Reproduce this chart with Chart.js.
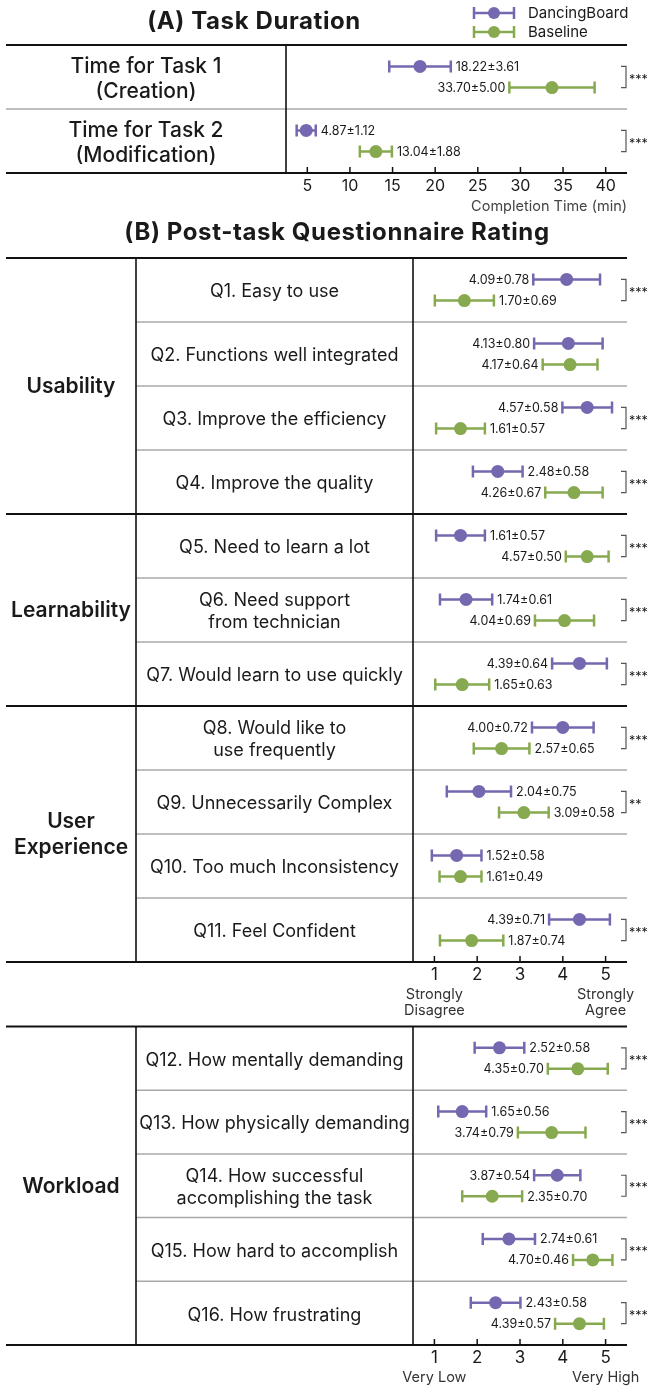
<!DOCTYPE html>
<html><head><meta charset="utf-8">
<script src="https://cdn.jsdelivr.net/npm/chart.js@4.4.1/dist/chart.umd.min.js"></script>
<style>
html,body{margin:0;padding:0;background:#fff;}
#wrap{position:relative;width:647px;height:1387px;overflow:hidden;}
canvas{position:absolute;left:0;}
</style></head><body>
<div id="wrap">
<canvas id="cA" width="647" height="215" style="top:0px"></canvas>
<canvas id="cB1" width="647" height="805" style="top:215px"></canvas>
<canvas id="cB2" width="647" height="367" style="top:1020px"></canvas>
</div>
<script>
// ---------------- DATA ----------------
const seriesNames = ["DancingBoard", "Baseline"];

const taskRows = [["Time for Task 1", "(Creation)"], ["Time for Task 2", "(Modification)"]];
const taskDancingMean = [18.22, 4.87];
const taskDancingSD = [3.61, 1.12];
const taskBaselineMean = [33.70, 13.04];
const taskBaselineSD = [5.00, 1.88];
const taskSig = ["***", "***"];
const taskTicks = [5, 10, 15, 20, 25, 30, 35, 40];

const ratingQuestions = [["Q1. Easy to use"], ["Q2. Functions well integrated"], ["Q3. Improve the efficiency"], ["Q4. Improve the quality"], ["Q5. Need to learn a lot"], ["Q6. Need support", "from technician"], ["Q7. Would learn to use quickly"], ["Q8. Would like to", "use frequently"], ["Q9. Unnecessarily Complex"], ["Q10. Too much Inconsistency"], ["Q11. Feel Confident"]];
const ratingDancingMean = [4.09, 4.13, 4.57, 2.48, 1.61, 1.74, 4.39, 4.00, 2.04, 1.52, 4.39];
const ratingDancingSD = [0.78, 0.80, 0.58, 0.58, 0.57, 0.61, 0.64, 0.72, 0.75, 0.58, 0.71];
const ratingBaselineMean = [1.70, 4.17, 1.61, 4.26, 4.57, 4.04, 1.65, 2.57, 3.09, 1.61, 1.87];
const ratingBaselineSD = [0.69, 0.64, 0.57, 0.67, 0.50, 0.69, 0.63, 0.65, 0.58, 0.49, 0.74];
const ratingSig = ["***", "", "***", "***", "***", "***", "***", "***", "**", "", "***"];
const ratingGroups = [["Usability"], ["Learnability"], ["User", "Experience"]];
const ratingGroupSizes = [4, 3, 4];
const ratingTicks = [1, 2, 3, 4, 5];
const ratingEnds = [["Strongly", "Disagree"], ["Strongly", "Agree"]];

const workloadQuestions = [["Q12. How mentally demanding"], ["Q13. How physically demanding"], ["Q14. How successful", "accomplishing the task"], ["Q15. How hard to accomplish"], ["Q16. How frustrating"]];
const workloadDancingMean = [2.52, 1.65, 3.87, 2.74, 2.43];
const workloadDancingSD = [0.58, 0.56, 0.54, 0.61, 0.58];
const workloadBaselineMean = [4.35, 3.74, 2.35, 4.70, 4.39];
const workloadBaselineSD = [0.70, 0.79, 0.70, 0.46, 0.57];
const workloadSig = ["***", "***", "***", "***", "***"];
const workloadGroups = [["Workload"]];
const workloadGroupSizes = [5];
const workloadTicks = [1, 2, 3, 4, 5];
const workloadEnds = [["Very Low"], ["Very High"]];

// ---------------- STYLE ----------------
const FONT = 'Inter, "Noto Sans", sans-serif';
const PURPLE = '#7668b0';
const GREEN = '#87aa50';
const INK = '#1a1a1a';
Chart.defaults.font.family = FONT;
const OFF = 0.165;

function f(size, weight) { return (weight || 400) + ' ' + size + 'px ' + FONT; }

function drawLines(ctx, lines, x, y, lh) {
  const start = y - (lines.length - 1) * lh / 2;
  lines.forEach((t, i) => ctx.fillText(t, x, start + i * lh));
}

function drawErrorGlyph(ctx, x0, xm, x1, y, color, r) {
  ctx.strokeStyle = color; ctx.lineWidth = 2.5;
  ctx.beginPath();
  ctx.moveTo(x0, y); ctx.lineTo(x1, y);
  ctx.moveTo(x0, y - 6); ctx.lineTo(x0, y + 6);
  ctx.moveTo(x1, y - 6); ctx.lineTo(x1, y + 6);
  ctx.stroke();
  if (r) { ctx.fillStyle = color; ctx.beginPath(); ctx.arc(xm, y, r, 0, Math.PI * 2); ctx.fill(); }
}

function buildChart(id, spec) {
  const n = spec.rows.length;
  const series = [
    { mean: spec.dMean, sd: spec.dSD, color: PURPLE },
    { mean: spec.bMean, sd: spec.bSD, color: GREEN }
  ];
  const yOf = (i, k) => i + 0.5 + (k ? OFF : -OFF);

  const deco = {
    id: 'deco',
    beforeDatasetsDraw(chart) {
      const { ctx, chartArea: ca, scales: { x, y } } = chart;
      ctx.save();
      const L = 6, R = ca.right;
      // row separators
      for (let i = 1; i < n; i++) {
        const py = y.getPixelForValue(i);
        const isGroupEdge = spec.groupEdges && spec.groupEdges.includes(i);
        ctx.strokeStyle = isGroupEdge ? '#111' : '#a8a8a8';
        ctx.lineWidth = isGroupEdge ? 2 : 1.5;
        ctx.beginPath();
        ctx.moveTo(isGroupEdge ? L : (spec.groupCol ? spec.groupCol : L), py);
        ctx.lineTo(R, py); ctx.stroke();
      }
      // vertical lines
      ctx.strokeStyle = '#111'; ctx.lineWidth = 1.6;
      const vx = [ca.left];
      if (spec.groupCol) vx.push(spec.groupCol);
      vx.forEach(v => { ctx.beginPath(); ctx.moveTo(v, ca.top); ctx.lineTo(v, ca.bottom); ctx.stroke(); });
      // top / bottom rules
      ctx.lineWidth = 2;
      [ca.top, ca.bottom].forEach(py => { ctx.beginPath(); ctx.moveTo(L, py); ctx.lineTo(R, py); ctx.stroke(); });
      // inward tick marks
      ctx.lineWidth = 1.5;
      spec.ticks.forEach(t => {
        const px = x.getPixelForValue(t);
        ctx.beginPath(); ctx.moveTo(px, ca.bottom - 6); ctx.lineTo(px, ca.bottom); ctx.stroke();
      });
      // row labels
      ctx.fillStyle = INK; ctx.textAlign = 'center'; ctx.textBaseline = 'middle';
      const qx0 = spec.groupCol ? spec.groupCol : L;
      const qcx = (qx0 + ca.left) / 2;
      ctx.font = spec.rowFont;
      spec.rows.forEach((lines, i) => drawLines(ctx, lines, qcx, y.getPixelForValue(i + 0.5) + 2, spec.rowLH));
      // group labels
      if (spec.groups) {
        ctx.font = f(21, 600);
        let start = 0;
        spec.groups.forEach((g, gi) => {
          const end = start + spec.groupSizes[gi];
          const cy = (y.getPixelForValue(start) + y.getPixelForValue(end)) / 2 + 1;
          drawLines(ctx, g, (L + spec.groupCol) / 2, cy, 26);
          start = end;
        });
      }
      // error bars
      series.forEach((s, k) => {
        ctx.strokeStyle = s.color; ctx.lineWidth = 2.5;
        s.mean.forEach((m, i) => {
          const py = y.getPixelForValue(yOf(i, k));
          const x0 = x.getPixelForValue(m - s.sd[i]), x1 = x.getPixelForValue(m + s.sd[i]);
          ctx.beginPath();
          ctx.moveTo(x0, py); ctx.lineTo(x1, py);
          ctx.moveTo(x0, py - 6); ctx.lineTo(x0, py + 6);
          ctx.moveTo(x1, py - 6); ctx.lineTo(x1, py + 6);
          ctx.stroke();
        });
      });
      ctx.restore();
    },
    afterDatasetsDraw(chart) {
      const { ctx, chartArea: ca, scales: { x, y } } = chart;
      ctx.save();
      // value labels
      ctx.font = spec.valFont; ctx.fillStyle = INK; ctx.textBaseline = 'middle';
      series.forEach((s, k) => {
        s.mean.forEach((m, i) => {
          const py = y.getPixelForValue(yOf(i, k)) + 0.5;
          const txt = m.toFixed(2) + '\u00b1' + s.sd[i].toFixed(2);
          const w = ctx.measureText(txt).width;
          const x0 = x.getPixelForValue(m - s.sd[i]), x1 = x.getPixelForValue(m + s.sd[i]);
          if (x1 + 5 + w <= ca.right) { ctx.textAlign = 'left'; ctx.fillText(txt, x1 + 5, py); }
          else { ctx.textAlign = 'right'; ctx.fillText(txt, x0 - 4, py); }
        });
      });
      // significance brackets
      spec.sig.forEach((sg, i) => {
        if (!sg) return;
        const y0 = y.getPixelForValue(yOf(i, 0)), y1 = y.getPixelForValue(yOf(i, 1));
        const bx = ca.right - 1;
        ctx.strokeStyle = '#555'; ctx.lineWidth = 1.2;
        ctx.beginPath(); ctx.moveTo(bx - 5, y0); ctx.lineTo(bx, y0); ctx.lineTo(bx, y1); ctx.lineTo(bx - 5, y1); ctx.stroke();
        ctx.font = f(12.5, 400); ctx.fillStyle = INK; ctx.textAlign = 'left'; ctx.textBaseline = 'alphabetic';
        ctx.fillText(sg, bx + 3, (y0 + y1) / 2 + 6.5);
      });
      if (spec.extra) spec.extra(ctx, ca, x, y);
      ctx.restore();
    }
  };

  return new Chart(document.getElementById(id), {
    type: 'scatter',
    data: {
      datasets: series.map((s, k) => ({
        label: seriesNames[k],
        data: s.mean.map((m, i) => ({ x: m, y: yOf(i, k) })),
        backgroundColor: s.color, borderColor: s.color, borderWidth: 0,
        pointRadius: 6.5, pointHoverRadius: 6.5
      }))
    },
    options: {
      responsive: false, animation: false, devicePixelRatio: 1, events: [],
      layout: { padding: spec.padding },
      plugins: { legend: { display: false }, tooltip: { enabled: false }, title: { display: false } },
      scales: {
        x: {
          type: 'linear', min: spec.min, max: spec.max,
          afterBuildTicks: sc => { sc.ticks = spec.ticks.map(v => ({ value: v })); },
          afterFit: sc => { sc.height = spec.axisH; },
          grid: { display: false, drawTicks: false },
          border: { display: false },
          ticks: { font: { size: spec.tickSize }, color: INK, padding: spec.tickPad, autoSkip: false, maxRotation: 0 },
          title: spec.axisTitle ? { display: true, text: spec.axisTitle, align: 'end', color: '#444', font: { size: 14.5 }, padding: { top: 0, bottom: 0 } } : { display: false }
        },
        y: { type: 'linear', min: 0, max: n, reverse: true, display: false }
      }
    },
    plugins: [deco]
  });
}

function titleText(ctx, txt, cx, cy) {
  ctx.fillStyle = INK; ctx.textAlign = 'center'; ctx.textBaseline = 'middle';
  ctx.font = f(24, 700);
  try { ctx.letterSpacing = '0.6px'; } catch (e) {}
  ctx.fillText(txt, cx, cy);
  try { ctx.letterSpacing = '0px'; } catch (e) {}
}

// ---------------- CHART A ----------------
buildChart('cA', {
  rows: taskRows, dMean: taskDancingMean, dSD: taskDancingSD, bMean: taskBaselineMean, bSD: taskBaselineSD,
  sig: taskSig, ticks: taskTicks, min: 2.5, max: 42.5,
  padding: { left: 286, right: 20, top: 45, bottom: 0 }, axisH: 42, tickSize: 16, tickPad: 4,
  axisTitle: 'Completion Time (min)',
  rowFont: f(21, 500), rowLH: 25, valFont: f(12.5, 400),
  extra(ctx, ca, x, y) {
    titleText(ctx, '(A) Task Duration', 254, 22);
    // legend
    [PURPLE, GREEN].forEach((c, k) => {
      const ly = 13 + k * 19;
      drawErrorGlyph(ctx, 474, 494, 514, ly, c, 6);
      ctx.fillStyle = INK; ctx.font = f(15, 400); ctx.textAlign = 'left'; ctx.textBaseline = 'middle';
      ctx.fillText(seriesNames[k], 528, ly);
    });
  }
});

// ---------------- CHART B1 ----------------
function edgesFrom(sizes) { const e = []; let s = 0; sizes.slice(0, -1).forEach(v => { s += v; e.push(s); }); return e; }

buildChart('cB1', {
  rows: ratingQuestions, dMean: ratingDancingMean, dSD: ratingDancingSD, bMean: ratingBaselineMean, bSD: ratingBaselineSD,
  sig: ratingSig, ticks: ratingTicks, min: 0.5, max: 5.5,
  padding: { left: 413, right: 20, top: 43, bottom: 0 }, axisH: 58, tickSize: 17, tickPad: 3,
  groupCol: 136, groups: ratingGroups, groupSizes: ratingGroupSizes, groupEdges: edgesFrom(ratingGroupSizes),
  rowFont: f(18, 400), rowLH: 22, valFont: f(12.5, 400),
  extra(ctx, ca, x, y) {
    titleText(ctx, '(B) Post-task Questionnaire Rating', 337, 18);
    ctx.fillStyle = '#333'; ctx.textAlign = 'center'; ctx.textBaseline = 'middle';
    ctx.font = f(14.5, 400);
    [ratingTicks[0], ratingTicks[ratingTicks.length - 1]].forEach((t, k) => {
      ratingEnds[k].forEach((s, j) => ctx.fillText(s, x.getPixelForValue(t), ca.bottom + 33 + j * 16));
    });
  }
});

// ---------------- CHART B2 ----------------
buildChart('cB2', {
  rows: workloadQuestions, dMean: workloadDancingMean, dSD: workloadDancingSD, bMean: workloadBaselineMean, bSD: workloadBaselineSD,
  sig: workloadSig, ticks: workloadTicks, min: 0.5, max: 5.5,
  padding: { left: 413, right: 20, top: 5, bottom: 0 }, axisH: 42, tickSize: 17, tickPad: 3,
  groupCol: 136, groups: workloadGroups, groupSizes: workloadGroupSizes, groupEdges: [],
  rowFont: f(18, 400), rowLH: 22, valFont: f(12.5, 400),
  extra(ctx, ca, x, y) {
    ctx.fillStyle = '#333'; ctx.textAlign = 'center'; ctx.textBaseline = 'middle';
    ctx.font = f(14.5, 400);
    [workloadTicks[0], workloadTicks[workloadTicks.length - 1]].forEach((t, k) => {
      workloadEnds[k].forEach((s, j) => ctx.fillText(s, x.getPixelForValue(t), ca.bottom + 33 + j * 16));
    });
  }
});
</script>
</body></html>
